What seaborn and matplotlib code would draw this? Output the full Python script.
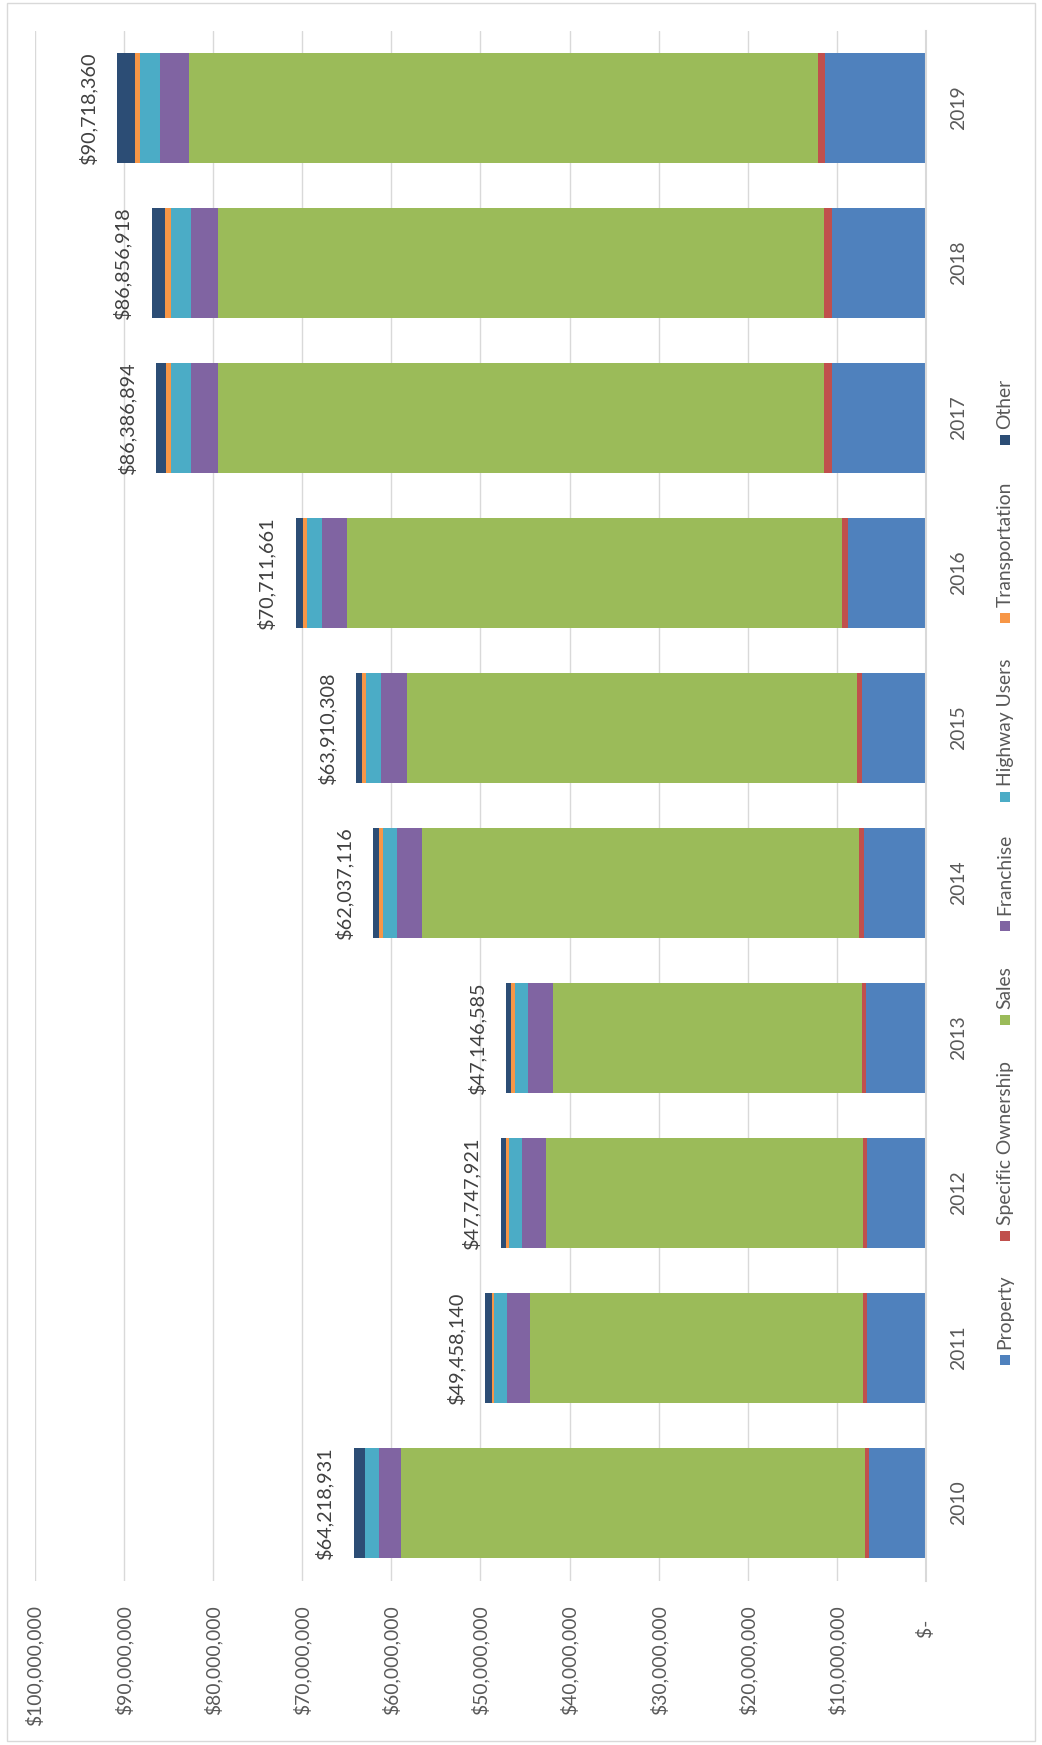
import numpy as np
import pandas as pd
import matplotlib
matplotlib.use("Agg")
import matplotlib.pyplot as plt
from matplotlib.patches import Rectangle
from matplotlib.ticker import FuncFormatter
import seaborn as sns

# valeurs (millions de $)
years = ["2010", "2011", "2012", "2013", "2014", "2015", "2016", "2017", "2018", "2019"]
property_tax = [6.43, 6.68, 6.62, 6.73, 7.02, 7.18, 8.82, 10.61, 10.61, 11.33]
specific_ownership = [0.44, 0.42, 0.48, 0.48, 0.53, 0.56, 0.63, 0.86, 0.86, 0.78]
sales = [52.01, 37.34, 35.55, 34.65, 49.00, 50.50, 55.48, 67.93, 67.93, 70.61]
franchise = [2.53, 2.58, 2.72, 2.81, 2.81, 2.95, 2.87, 3.06, 3.06, 3.22]
highway_users = [1.54, 1.50, 1.43, 1.46, 1.60, 1.68, 1.65, 2.21, 2.21, 2.24]
transportation = [0.00, 0.22, 0.33, 0.41, 0.42, 0.38, 0.45, 0.63, 0.67, 0.59]
other = [1.27, 0.72, 0.62, 0.61, 0.66, 0.66, 0.82, 1.08, 1.52, 1.95]
totals = [64218931, 49458140, 47747921, 47146585, 62037116,
          63910308, 70711661, 86386894, 86856918, 90718360]

series_names = ["Property", "Specific Ownership", "Sales", "Franchise",
                "Highway Users", "Transportation", "Other"]
series_values = [property_tax, specific_ownership, sales, franchise,
                 highway_users, transportation, other]
colors = ["#4F81BD", "#C0504D", "#9BBB59", "#8064A2", "#4BACC6", "#F79646", "#2C4D75"]

sns.set_style("white")
plt.rcParams["font.family"] = ["Lato", "DejaVu Sans"]

df = pd.DataFrame({"year": years})
for name, vals in zip(series_names, series_values):
    df[name] = np.array(vals) * 1e6
cum = df[series_names].cumsum(axis=1)
for name in series_names:
    df["cum_" + name] = cum[name]

W, H = 1042, 1745
fig = plt.figure(figsize=(W / 100, H / 100), dpi=100, facecolor="white")
ax = fig.add_axes([34.6 / W, 1 - 1580.5 / H, (926.3 - 34.6) / W, 1550 / H])

order = years[::-1]
# barres empilées : on dessine les cumuls du plus grand au plus petit
for name, c in reversed(list(zip(series_names, colors))):
    sns.barplot(data=df, x="cum_" + name, y="year", order=order, orient="h",
                color=c, saturation=1, width=0.71, errorbar=None,
                linewidth=0, ax=ax)

ax.set_xlim(100e6, 0)
ax.set_ylim(9.5, -0.5)
ax.set_xlabel("")
ax.set_ylabel("")

# grille verticale
ax.set_xticks(np.arange(0, 100e6 + 1, 10e6))
ax.xaxis.set_major_formatter(FuncFormatter(lambda v, p: "$-   " if v == 0 else f"${v:,.0f}"))
ax.grid(axis="x", color="#D9D9D9", linewidth=1.0)
ax.set_axisbelow(True)
for s in ["top", "left", "bottom"]:
    ax.spines[s].set_visible(False)
ax.spines["right"].set_color("#D9D9D9")
ax.spines["right"].set_linewidth(1.5)

ax.tick_params(axis="x", length=0, pad=18, labelsize=13.9, labelcolor="#595959",
               labelrotation=90)

# années à droite
ax.set_yticks(range(len(order)), labels=order, rotation=90, va="center", ha="left")
ax.yaxis.tick_right()
ax.tick_params(axis="y", length=0, pad=17, labelsize=13.9, labelcolor="#595959")

# étiquettes des totaux
for i, yr in enumerate(order):
    tot = totals[years.index(yr)]
    ax.annotate(f"${tot:,}", xy=(tot, i), xytext=(-20, 0), textcoords="offset pixels",
                rotation=90, ha="right", va="center", fontsize=14.3, color="#404040")

# légende manuelle (texte tourné)
sq_centers = [1360, 1236, 1020, 926, 797, 618, 440]
lx = 1005
sq = 10
for name, c, yc in zip(series_names, colors, sq_centers):
    fig.add_artist(Rectangle(((lx - sq / 2) / W, 1 - (yc + sq / 2) / H), sq / W, sq / H,
                             transform=fig.transFigure, facecolor=c, edgecolor="none"))
    fig.text(lx / W, 1 - (yc - sq / 2 - 6) / H, name, rotation=90, ha="center",
             va="bottom", fontsize=13.9, color="#595959")

# cadre du graphique
fig.add_artist(Rectangle((7 / W, 1 - 1741 / H), (1035 - 7) / W, (1741 - 3) / H,
                         transform=fig.transFigure, fill=False,
                         edgecolor="#D9D9D9", linewidth=1.0))

fig.savefig("out.png", dpi=100, facecolor="white")
